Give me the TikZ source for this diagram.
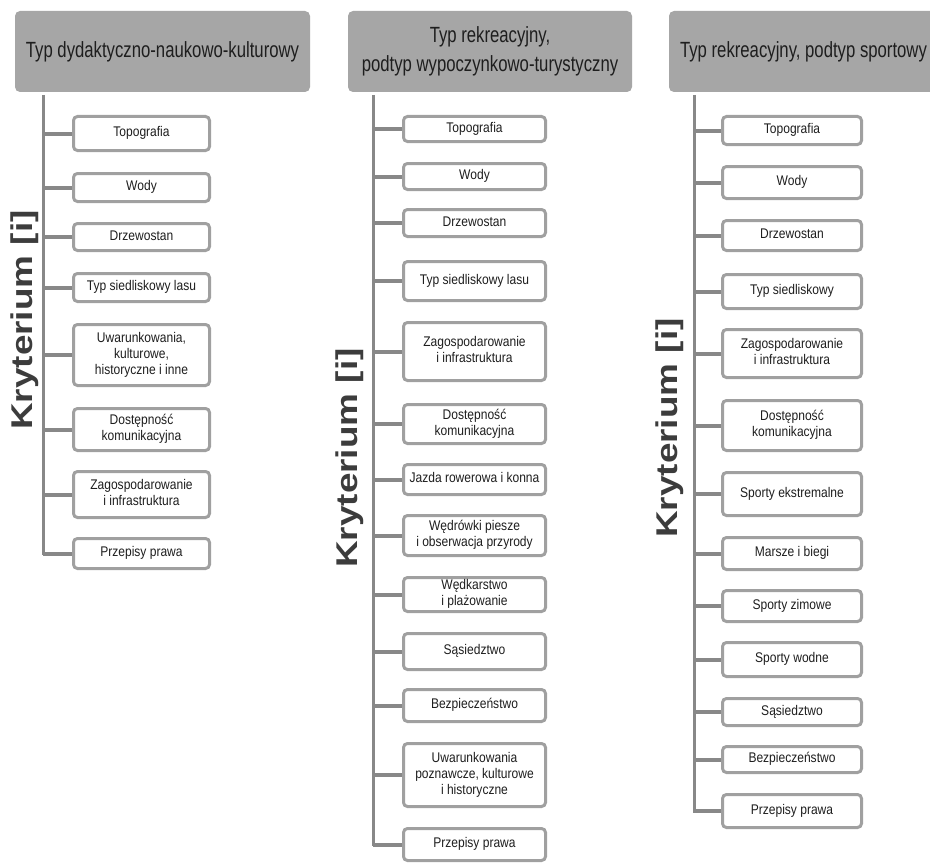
\documentclass[tikz,border=0pt]{standalone}
\usepackage{fontspec}
\setmainfont{Liberation Sans}
\usepackage{graphicx}
\definecolor{hdrgray}{HTML}{A6A6A6}
\definecolor{brdgray}{HTML}{A0A0A0}
\definecolor{lngray}{HTML}{888888}
\definecolor{txtdark}{HTML}{1E1E1E}
\definecolor{krygray}{HTML}{3C3C3C}
\newcommand{\btxt}[1]{\scalebox{0.86}[1]{\begin{tabular}{@{}c@{}}#1\end{tabular}}}
\newcommand{\htxt}[1]{\scalebox{0.76}[1]{\begin{tabular}{@{}c@{}}#1\end{tabular}}}
\tikzset{
  critbox/.style={draw=brdgray, line width=3pt, fill=white, rounded corners=4pt, inner sep=0pt,
    text=txtdark, font=\fontsize{14}{16}\selectfont},
  hdrbox/.style={fill=hdrgray, rounded corners=5pt, inner sep=0pt, text=txtdark,
    font=\fontsize{22}{29}\selectfont},
  trunkline/.style={draw=lngray, line width=3pt},
  branchline/.style={draw=lngray, line width=4pt},
  krylabel/.style={rotate=90, text=krygray, inner sep=0pt, font=\bfseries\fontsize{30}{30}\selectfont}
}
% name, left, right, top, bottom, text
\newcommand{\cbox}[6]{\node[critbox, minimum width={#3-#2-3}, minimum height={#5-#4-3}] (#1) at ({(#2+#3)/2},{(#4+#5)/2}) {\btxt{#6}};}
% trunk coordinate, node
\newcommand{\cbranch}[2]{\draw[branchline] (#1 |- #2.west) -- (#2.west);}
\begin{document}
\begin{tikzpicture}[x=1pt,y=-1pt]
\useasboundingbox (0,0) rectangle (930,867);
\fill[white] (0,0) rectangle (930,867);

% headers
\node[hdrbox, minimum width=295, minimum height=81] (h1) at (162.5,51.5) {\htxt{Typ dydaktyczno-naukowo-kulturowy}};
\node[hdrbox, minimum width=284, minimum height=81] (h2) at (490,51.5) {\htxt{Typ rekreacyjny,\\podtyp wypoczynkowo-turystyczny}};
\node[hdrbox, minimum width=269, minimum height=81] (h3) at (803.5,51.5) {\htxt{Typ rekreacyjny, podtyp sportowy}};

% column 1
\coordinate (t1) at (43,95);
\cbox{a1}{72}{211}{115}{152}{Topografia}
\cbox{a2}{72}{211}{172}{203}{Wody}
\cbox{a3}{72}{211}{222}{252}{Drzewostan}
\cbox{a4}{72}{211}{272}{303}{Typ siedliskowy lasu}
\cbox{a5}{72}{211}{323}{387}{Uwarunkowania,\\kulturowe,\\historyczne i inne}
\cbox{a6}{72}{211}{407}{452}{Dostępność\\komunikacyjna}
\cbox{a7}{72}{211}{470}{519}{Zagospodarowanie\\i infrastruktura}
\cbox{a8}{72}{211}{537}{570}{Przepisy prawa}
\draw[trunkline] (t1) |- (a8.west);
\foreach \n in {a1,a2,a3,a4,a5,a6,a7,a8} {\cbranch{t1}{\n}}
\node[krylabel] (k1) at (25,320) {\scalebox{1.23}[1]{Kryterium [i]}};

% column 2
\coordinate (t2) at (373,95);
\cbox{b1}{402}{547}{115}{143}{Topografia}
\cbox{b2}{402}{547}{162}{191}{Wody}
\cbox{b3}{402}{547}{208}{238}{Drzewostan}
\cbox{b4}{402}{547}{260}{302}{Typ siedliskowy lasu}
\cbox{b5}{402}{547}{321}{382}{Zagospodarowanie\\i infrastruktura}
\cbox{b6}{402}{547}{403}{445}{Dostępność\\komunikacyjna}
\cbox{b7}{402}{547}{463}{496}{Jazda rowerowa i konna}
\cbox{b8}{402}{547}{514}{557}{Wędrówki piesze\\i obserwacja przyrody}
\cbox{b9}{402}{547}{576}{613}{Wędkarstwo\\i plażowanie}
\cbox{b10}{402}{547}{632}{671}{Sąsiedztwo}
\cbox{b11}{402}{547}{688}{723}{Bezpieczeństwo}
\cbox{b12}{402}{547}{742}{808}{Uwarunkowania\\poznawcze, kulturowe\\i historyczne}
\cbox{b13}{402}{547}{827}{862}{Przepisy prawa}
\draw[trunkline] (t2) |- (b13.west);
\foreach \n in {b1,b2,b3,b4,b5,b6,b7,b8,b9,b10,b11,b12,b13} {\cbranch{t2}{\n}}
\node[krylabel] (k2) at (350,458) {\scalebox{1.23}[1]{Kryterium [i]}};

% column 3
\coordinate (t3) at (694,95);
\cbox{c1}{721}{863}{115}{146}{Topografia}
\cbox{c2}{721}{863}{165}{200}{Wody}
\cbox{c3}{721}{863}{219}{252}{Drzewostan}
\cbox{c4}{721}{863}{273}{310}{Typ siedliskowy}
\cbox{c5}{721}{863}{328}{379}{Zagospodarowanie\\i infrastruktura}
\cbox{c6}{721}{863}{399}{452}{Dostępność\\komunikacyjna}
\cbox{c7}{721}{863}{471}{517}{Sporty ekstremalne}
\cbox{c8}{721}{863}{536}{571}{Marsze i biegi}
\cbox{c9}{721}{863}{589}{623}{Sporty zimowe}
\cbox{c10}{721}{863}{641}{678}{Sporty wodne}
\cbox{c11}{721}{863}{697}{727}{Sąsiedztwo}
\cbox{c12}{721}{863}{745}{774}{Bezpieczeństwo}
\cbox{c13}{721}{863}{793}{829}{Przepisy prawa}
\draw[trunkline] (t3) |- (c13.west);
\foreach \n in {c1,c2,c3,c4,c5,c6,c7,c8,c9,c10,c11,c12,c13} {\cbranch{t3}{\n}}
\node[krylabel] (k3) at (670,428) {\scalebox{1.23}[1]{Kryterium [i]}};
\end{tikzpicture}
\end{document}
